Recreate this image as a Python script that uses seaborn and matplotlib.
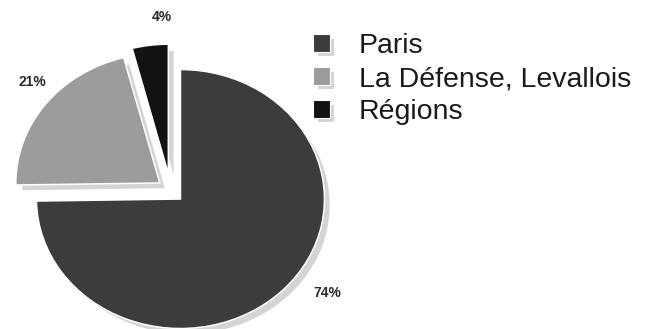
import numpy as np
import matplotlib
matplotlib.use("Agg")
import matplotlib.pyplot as plt
import seaborn as sns
from matplotlib.patches import Rectangle
from matplotlib.legend_handler import HandlerBase

# ---- data ----
categories = ["Paris", "La Défense, Levallois", "Régions"]
shares = [74, 21, 4]
pct_labels = ["74%", "21%", "4%"]

# ---- style ----
sns.set_theme(style="white")
plt.rcParams["font.family"] = ["Liberation Sans", "DejaVu Sans"]

colors = ["#3c3c3c", "#9c9c9c", "#121212"]
shadow_color = "#d4d4d4"
explode = [0.095, 0.095, 0.13]
label_r = [1.25, 1.18, 1.21]
label_nudge = [9, -4, -5]

fig = plt.figure(figsize=(6.54, 3.29), dpi=100)
ax = fig.add_axes([0, 0, 1, 1])

RX, RY = 144.0, 129.5          # pixel radii (pie is slightly stretched)
shadow_off = (6 / RX, -6 / RY)

ax.pie(shares, explode=explode, colors=[shadow_color] * len(shares),
       startangle=90, counterclock=False, center=shadow_off,
       wedgeprops=dict(edgecolor="white", linewidth=1.1))
wedges, _ = ax.pie(shares, explode=explode, colors=colors,
                   startangle=90, counterclock=False,
                   wedgeprops=dict(edgecolor="white", linewidth=1.1))

for w, lab, r, nd in zip(wedges, pct_labels, label_r, label_nudge):
    th = np.deg2rad((w.theta1 + w.theta2) / 2 + nd)
    cx, cy = w.center
    ax.text(cx + r * np.cos(th), cy + r * np.sin(th), lab,
            ha="center", va="center", fontsize=10, fontweight="bold",
            color="#2a2a2a")

ax.set_aspect("auto")
cxp, cyp = 170.7, 190.4
ax.set_xlim(-cxp / RX, (654 - cxp) / RX)
ax.set_ylim(-(329 - cyp) / RY, cyp / RY)
ax.axis("off")


class ShadowSquare(HandlerBase):
    def create_artists(self, legend, orig_handle, xdescent, ydescent,
                       width, height, fontsize, trans):
        sh = Rectangle((-xdescent + 3, -ydescent - 3), width, height,
                       facecolor=shadow_color, edgecolor="white", lw=0.8,
                       transform=trans)
        sq = Rectangle((-xdescent, -ydescent), width, height,
                       facecolor=orig_handle.get_facecolor(),
                       edgecolor="white", lw=0.8, transform=trans)
        return [sh, sq]


fig.legend(wedges, categories, loc="center left",
           bbox_to_anchor=(313 / 654, 1 - 79 / 329),
           frameon=False, fontsize=20.5, handlelength=0.6, handleheight=0.6,
           handletextpad=1.0, labelspacing=0.25, borderpad=0, borderaxespad=0,
           handler_map={w: ShadowSquare() for w in wedges},
           labelcolor="#1a1a1a")

fig.savefig("out.png", dpi=100)
